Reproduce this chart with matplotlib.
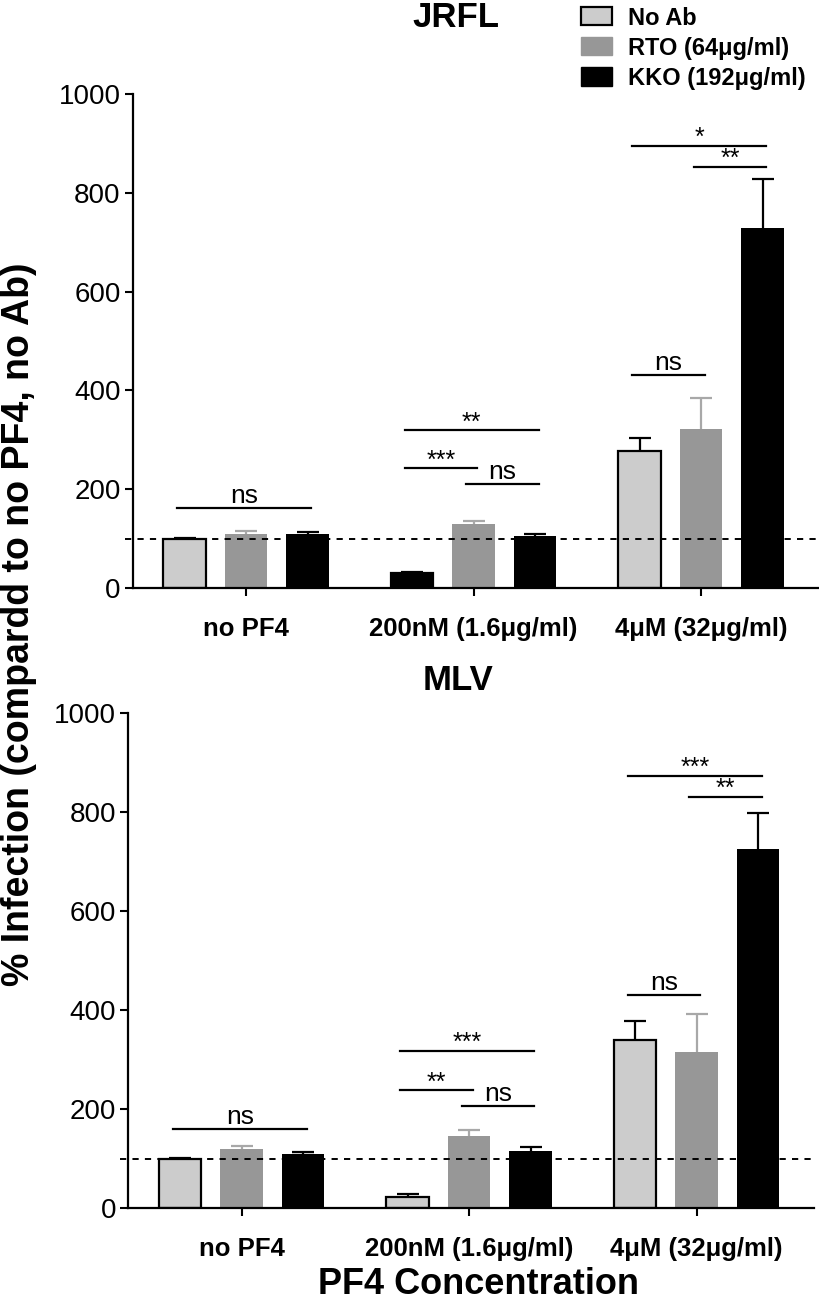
import matplotlib
matplotlib.use('Agg')
import matplotlib.pyplot as plt
from matplotlib.patches import Patch
import numpy as np

plt.rcParams['font.family'] = ['Liberation Sans', 'DejaVu Sans']

# 数据
groups = ['no PF4', '200nM (1.6μg/ml)', '4μM (32μg/ml)']
series = ['No Ab', 'RTO (64μg/ml)', 'KKO (192μg/ml)']

jrfl_noab = [100, 30, 278]
jrfl_noab_err = [2, 3, 25]
jrfl_rto = [110, 130, 322]
jrfl_rto_err = [5, 6, 63]
jrfl_kko = [110, 105, 728]
jrfl_kko_err = [4, 4, 100]

mlv_noab = [100, 22, 340]
mlv_noab_err = [2, 6, 37]
mlv_rto = [120, 145, 315]
mlv_rto_err = [5, 13, 76]
mlv_kko = [110, 115, 725]
mlv_kko_err = [3, 9, 73]

baseline = 100

# 显著性标注: (组, 柱i, 柱j, 高度, 文本)
jrfl_sig = [(0, 0, 2, 162, 'ns'),
            (1, 0, 2, 319, '**'), (1, 0, 1, 242, '***'), (1, 1, 2, 210, 'ns'),
            (2, 0, 2, 895, '*'), (2, 1, 2, 853, '**'), (2, 0, 1, 432, 'ns')]
mlv_sig = [(0, 0, 2, 160, 'ns'),
           (1, 0, 2, 317, '***'), (1, 0, 1, 238, '**'), (1, 1, 2, 206, 'ns'),
           (2, 0, 2, 873, '***'), (2, 1, 2, 830, '**'), (2, 0, 1, 430, 'ns')]

colors = ['#cccccc', '#979797', '#000000']
ecolors = ['#000000', '#a8a8a8', '#000000']
group_gap = 3.7
bar_w = 0.69


def draw_panel(ax, means, errs, sigs, noab_faces):
    centers = np.arange(len(groups)) * group_gap
    for k in range(3):
        x = centers + (k - 1)
        face = noab_faces if k == 0 else colors[k]
        ax.errorbar(x, means[k], yerr=errs[k], fmt='none', ecolor=ecolors[k],
                    elinewidth=1.6, capsize=8, capthick=1.6, zorder=1)
        ax.bar(x, means[k], bar_w, color=face,
               edgecolor='black' if k == 0 else face,
               linewidth=1.6 if k == 0 else 0, zorder=2)
    ax.axhline(baseline, xmin=-0.012, xmax=1, color='black', lw=1.4,
               ls=(0, (3.2, 3.2)), zorder=3, clip_on=False)
    for g, i, j, y, txt in sigs:
        x0 = centers[g] + (i - 1) - 0.12
        x1 = centers[g] + (j - 1) + 0.06
        ax.plot([x0, x1], [y, y], color='black', lw=1.6)
        off = -3 if '*' in txt else 0
        ax.annotate(txt, xy=((x0 + x1) / 2, y), xytext=(0, off),
                    textcoords='offset points', ha='center', va='bottom',
                    fontsize=19 if txt == 'ns' else 18)
    ax.set_xlim(-1.84, 9.3)
    ax.set_ylim(0, 1000)
    ax.set_yticks([0, 200, 400, 600, 800, 1000])
    ax.set_xticks(centers)
    ax.set_xticklabels(groups, fontsize=18.5, fontweight='bold')
    ax.tick_params(axis='y', labelsize=20, length=6, width=1.5, pad=3)
    ax.tick_params(axis='x', length=6, width=1.5, pad=15)
    for s in ['top', 'right']:
        ax.spines[s].set_visible(False)
    for s in ['left', 'bottom']:
        ax.spines[s].set_linewidth(1.6)


fig = plt.figure(figsize=(8.2, 13.04), dpi=100)
ax1 = fig.add_axes([0.1622, 0.5491, 0.8354, 0.3788])
ax2 = fig.add_axes([0.1567, 0.0736, 0.8354, 0.3796])

draw_panel(ax1, [jrfl_noab, jrfl_rto, jrfl_kko],
           [jrfl_noab_err, jrfl_rto_err, jrfl_kko_err], jrfl_sig,
           ['#cccccc', '#000000', '#cccccc'])
draw_panel(ax2, [mlv_noab, mlv_rto, mlv_kko],
           [mlv_noab_err, mlv_rto_err, mlv_kko_err], mlv_sig,
           '#cccccc')

fig.text(0.556, 0.9995, 'JRFL', ha='center', va='top', fontsize=25, fontweight='bold')
fig.text(0.558, 0.478, 'MLV', ha='center', va='center', fontsize=25, fontweight='bold')
fig.text(0.023, 0.5215, '% Infection (compardd to no PF4, no Ab)', rotation=90,
         ha='center', va='center', fontsize=27, fontweight='bold')
fig.text(0.584, 0.0012, 'PF4 Concentration', ha='center', va='bottom',
         fontsize=26, fontweight='bold')

handles = [Patch(facecolor=colors[0], edgecolor='black', linewidth=1.6),
           Patch(facecolor=colors[1], edgecolor=colors[1]),
           Patch(facecolor=colors[2], edgecolor=colors[2])]
leg = fig.legend(handles, series, loc='upper left', bbox_to_anchor=(0.708, 0.995),
                 frameon=False, borderpad=0, borderaxespad=0, handlelength=1.35,
                 handleheight=0.8, handletextpad=0.65, labelspacing=0.3,
                 prop={'size': 17, 'weight': 'bold'})

plt.savefig('out.png', dpi=100)
